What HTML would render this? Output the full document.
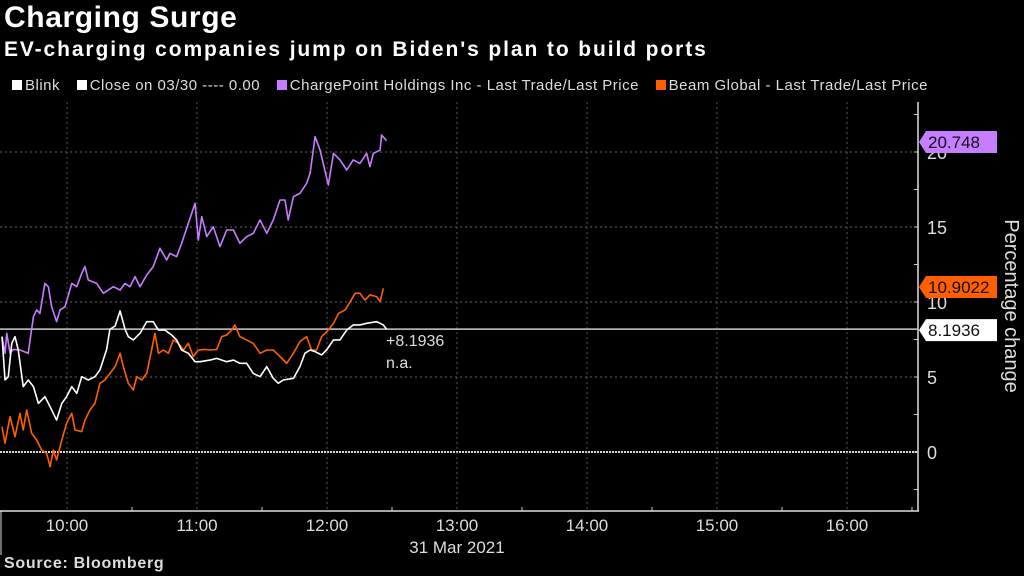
<!DOCTYPE html>
<html><head><meta charset="utf-8"><style>
body{margin:0;background:#000;width:1024px;height:576px;overflow:hidden;font-family:"Liberation Sans",sans-serif;color:#fff}
.t{position:absolute;white-space:nowrap}
</style></head><body>
<div class="t" style="left:4px;top:1px;font-size:30px;font-weight:bold;letter-spacing:0.6px">Charging Surge</div>
<div class="t" style="left:4px;top:38px;font-size:21px;font-weight:bold;letter-spacing:1.9px">EV-charging companies jump on Biden's plan to build ports</div>
<div class="t" style="left:6px;top:77px;font-size:15px;color:#ddd;letter-spacing:0.5px">
<span><span style="display:inline-block;width:10px;height:10px;background:#fff;margin-right:3px;margin-left:6px"></span>Blink</span>
<span style="margin-left:12px"><span style="display:inline-block;width:10px;height:10px;background:#fff;margin-right:3px"></span>Close on 03/30 ---- 0.00</span>
<span style="margin-left:12px"><span style="display:inline-block;width:10px;height:10px;background:#c77dff;margin-right:3px"></span>ChargePoint Holdings Inc - Last Trade/Last Price</span>
<span style="margin-left:12px"><span style="display:inline-block;width:10px;height:10px;background:#ff5f00;margin-right:3px"></span>Beam Global - Last Trade/Last Price</span>
</div>
<svg id="c" width="1024" height="576" style="position:absolute;left:0;top:0"></svg>
<div class="t" style="left:4px;top:555px;font-size:16px;font-weight:bold;color:#ddd;letter-spacing:0.7px">Source: Bloomberg</div>
<script>
const hourLabels=["10:00","11:00","12:00","13:00","14:00","15:00","16:00"];
const yTicks=[0,5,10,15,20];
const cpT=[0,1.4,2.2,3.7,5.2,8.3,12.1,14.5,16,17.5,19.8,21.4,22.9,25.2,26.8,29.1,32.2,34.5,36.8,38.3,39.8,43.7,46.8,51.4,54.5,56.8,59.1,61.4,63.7,66.8,69.8,72.9,76,77.5,80.6,82.9,86,89.1,90.6,92.2,94.5,97.5,100.6,103.7,106.8,109.8,112.9,116,119.1,122.2,125.2,128.3,130.6,132.1,134.5,137.5,140.6,142.2,144.5,146.8,150.6,153,156,159.1,162.1,165.2,168.3,169.8,171.4,174.5,175.2,177.5];
const cpV=[7.69,6.58,7.91,6.58,6.84,6.8,6.58,9.02,9.47,9.24,11.24,11.02,9.69,8.69,9.47,9.69,11.24,11.02,11.91,12.36,11.47,11.24,10.58,11.02,10.8,11.24,11.02,11.69,11.02,11.8,12.36,13.58,12.8,13.24,13.02,13.91,15.24,16.58,14.13,15.69,14.36,15.02,13.69,14.8,14.8,13.91,14.36,14.58,15.47,14.58,15.47,16.8,16.8,15.47,17.02,17.24,17.91,18.58,21.02,20.13,17.8,19.91,19.47,18.8,19.47,19.24,19.91,19.02,19.91,20.13,21.13,20.75];
const blT=[0,1.4,2.9,4.5,6,7.5,9.8,12.1,14.5,16.8,19.8,22.2,25.2,27.6,29.8,32.2,34.5,36.8,39.8,42.9,45.2,48.3,49.8,52.2,54.5,56.8,58.3,60.6,63.7,66.8,69.8,72.2,75.2,78.3,80.6,82.9,86,89.1,91.4,96,99.1,103.7,106.8,109.8,112.9,116,119.1,122.2,125.2,127.5,129.8,134.5,137.5,139.8,142.2,144.5,147.5,149.8,153,156,159.1,162.1,165.2,168.3,172.9,176,177.5];
const blV=[7.69,4.8,5.02,7.24,7.69,6.8,4.36,4.8,4.36,3.24,3.69,3.02,2.13,3.24,3.69,4.36,3.91,5.02,4.8,5.02,5.47,6.84,8.18,8.4,9.4,8.18,7.69,7.47,7.91,8.69,8.69,8.13,8.13,7.8,7.47,6.8,6.58,6.02,6.02,6.13,6.24,6.02,6.13,5.91,5.91,5.24,5.02,5.69,4.91,4.58,4.8,4.91,5.69,6.58,6.8,6.69,6.47,6.8,7.47,7.47,8.13,8.47,8.47,8.58,8.69,8.47,8.19];
const bmT=[0,1.4,3.7,6,8.3,9.8,11.4,13.7,16,18.3,20.6,22.2,23.7,25.2,27.6,29.8,32.2,33.7,36.8,38.3,40.6,42.9,45.2,47.5,49.8,52.2,54.5,56,58.3,60.6,62.2,64.5,66.8,69.1,70.6,72.2,74.5,76.8,79.1,81.4,83.7,86,88.3,90.6,93.7,96,99.1,101.4,103.7,106,107.5,109.8,112.9,116,119.1,122.2,125.2,128.3,131.4,134.5,137.5,140.6,142.9,145.2,147.5,150.6,153,155.3,158.4,160.7,163,165.2,167.5,169.8,172.9,174.5,176];
const bmV=[1.69,0.58,2.36,1.02,2.58,1.47,2.8,1.24,0.8,0.13,-0.09,-0.98,0.13,-0.53,0.8,1.91,2.58,1.47,1.36,2.13,2.8,3.24,4.58,4.8,5.24,5.69,6.58,5.69,4.58,4.13,5.02,4.8,5.24,6.84,7.91,6.58,6.8,6.58,7.47,7.24,6.8,7.24,6.36,6.8,6.84,6.8,6.84,7.69,7.8,8.13,8.47,7.69,7.47,7.24,6.58,6.8,6.8,6.36,5.91,6.58,7.36,7.69,6.8,6.8,7.69,8.13,8.58,9.24,9.47,10.02,10.58,10.58,10.13,10.47,10.36,10.02,10.91];
const lastClose=8.1936, lastCP=20.748, lastBeam=10.9022;

const svg=document.getElementById('c');const NS='http://www.w3.org/2000/svg';
const xS=t=>2+t*130/60; const yS=v=>452-v*15;
function mk(tag,a,parent){const e=document.createElementNS(NS,tag);for(const k in a)e.setAttribute(k,a[k]);(parent||svg).appendChild(e);return e;}
yTicks.forEach(v=>{
 const g=mk('line',{x1:0,x2:918,y1:yS(v),y2:yS(v),stroke:v===0?'#ddd':'#666','stroke-dasharray':v===0?'2,1':'2,3','stroke-width':v===0?2:1});
 
 
 const tx=mk('text',{x:927,y:yS(v)+7,fill:'#ddd','font-size':18,'font-family':'Liberation Sans'});tx.textContent=v;
 
 
});
for(let v=-2.5;v<=22.5;v+=2.5){mk('line',{x1:918,x2:914,y1:yS(v),y2:yS(v),stroke:'#ccc'});}
hourLabels.forEach((h,i)=>{
 const x=xS(30+60*i);
 const g=mk('line',{x1:x,x2:x,y1:102,y2:511,stroke:'#555','stroke-dasharray':'2,3'});
 
 
 const tx=mk('text',{x:x,y:531,fill:'#ddd','font-size':17,'text-anchor':'middle','font-family':'Liberation Sans'});tx.textContent=h;
 
 
 mk('line',{x1:xS(60*i+60),x2:xS(60*i+60),y1:511,y2:507,stroke:'#ccc'});
});
const dl=mk('text',{x:xS(210),y:553,fill:'#ddd','font-size':17,'text-anchor':'middle','font-family':'Liberation Sans'});dl.textContent='31 Mar 2021';


mk('line',{x1:0,x2:919,y1:511,y2:511,stroke:'#ddd','stroke-width':1.5});
mk('line',{x1:918,x2:918,y1:102,y2:511,stroke:'#ddd','stroke-width':1.5});
mk('line',{x1:1,x2:1,y1:511,y2:555,stroke:'#ddd'});
const cl=mk('line',{x1:0,x2:918,y1:yS(lastClose),y2:yS(lastClose),stroke:'#ccc','stroke-width':1.5});


function series(T,V,col,name){const p=mk('polyline',{points:T.map((t,i)=>xS(t)+','+yS(V[i])).join(' '),fill:'none',stroke:col,'stroke-width':1.6,'stroke-linejoin':'round'});
 
 }
series(cpT,cpV,'#c77dff','chargepoint-line');
series(bmT,bmV,'#ff5f00','beam-line');
series(blT,blV,'#ffffff','blink-line');
const a1=mk('text',{x:386,y:346,fill:'#ddd','font-size':16,'font-family':'Liberation Sans'});a1.textContent='+'+lastClose.toFixed(4);


const a2=mk('text',{x:386,y:368,fill:'#ddd','font-size':16,'font-family':'Liberation Sans'});a2.textContent='n.a.';


function tag(v,txt,bg,fg,name,cy){const y=cy;const g=mk('g',{});
 
 
 mk('polygon',{points:`919,${y} 926,${y-11} 997,${y-11} 997,${y+11} 926,${y+11}`,fill:bg},g);
 const t=mk('text',{x:928,y:y+6,fill:fg,'font-size':17,'font-family':'Liberation Sans'},g);t.textContent=txt;}
tag(lastCP,String(lastCP),'#c77dff','#111','chargepoint-value-tag',142);
tag(lastBeam,String(lastBeam),'#ff5f00','#111','beam-value-tag',287);
tag(lastClose,String(lastClose),'#ffffff','#111','blink-value-tag',yS(lastClose)+1);
const yt=mk('text',{x:0,y:0,fill:'#ddd','font-size':20,'text-anchor':'middle','font-family':'Liberation Sans',transform:'translate(1005,306) rotate(90)'});yt.textContent='Percentage change';


</script>
</body></html>
